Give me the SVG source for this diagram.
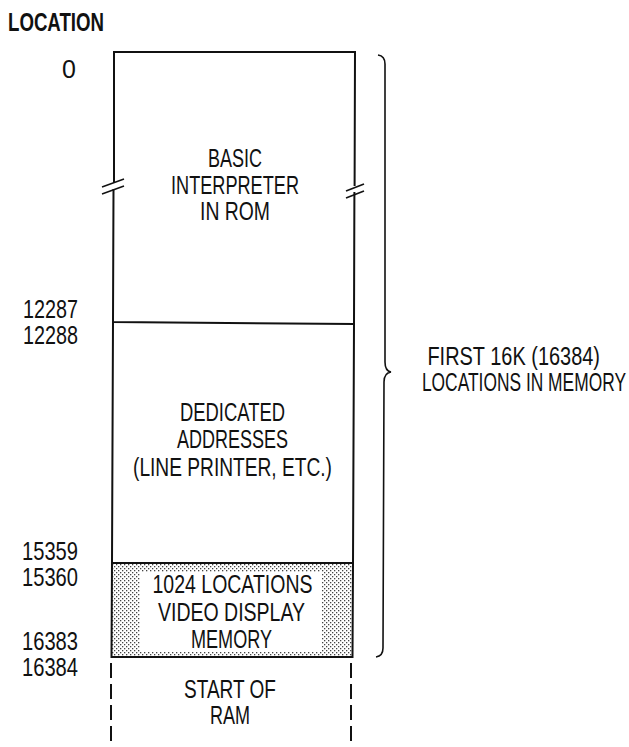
<svg xmlns="http://www.w3.org/2000/svg" width="629" height="747" viewBox="0 0 629 747">
<defs>
<pattern id="stipple" width="4" height="4" patternUnits="userSpaceOnUse">
<rect width="4" height="4" fill="#ffffff"/>
<rect x="0" y="0" width="1.3" height="1.3" fill="#444"/>
<rect x="2" y="2" width="1.3" height="1.3" fill="#444"/>
</pattern>
<style>
text{font-family:"Liberation Sans",Arial,sans-serif;font-size:25px;fill:#111}
.c{text-anchor:middle}
.r{text-anchor:end}
.b{font-weight:bold}
.ln{stroke:#111;stroke-width:2;fill:none;stroke-linecap:square}
.thin{stroke:#111;stroke-width:1.6;fill:none}
.dash{stroke:#111;stroke-width:2;fill:none;stroke-dasharray:15 6}
</style>
</defs>
<rect width="629" height="747" fill="#ffffff"/>

<g id="title">
<text class="b" x="8" y="31" textLength="96" lengthAdjust="spacingAndGlyphs">LOCATION</text>
</g>

<g id="addresses">
<text class="r" x="76" y="78">0</text>
<text class="r" x="78" y="318" textLength="55" lengthAdjust="spacingAndGlyphs">12287</text>
<text class="r" x="78" y="344" textLength="55" lengthAdjust="spacingAndGlyphs">12288</text>
<text class="r" x="78" y="560" textLength="56" lengthAdjust="spacingAndGlyphs">15359</text>
<text class="r" x="78" y="586" textLength="56" lengthAdjust="spacingAndGlyphs">15360</text>
<text class="r" x="78" y="650" textLength="56" lengthAdjust="spacingAndGlyphs">16383</text>
<text class="r" x="78" y="676" textLength="56" lengthAdjust="spacingAndGlyphs">16384</text>
</g>

<g id="rom">
<path class="ln" d="M114,182 L114,52 L355,52 L354.6,185"/>
<path class="ln" d="M113.5,190 L113,322 L354,324 L354.4,193"/>
<line class="thin" x1="102" y1="187" x2="124" y2="179"/>
<line class="thin" x1="102" y1="194" x2="124" y2="186"/>
<line class="thin" x1="346" y1="191" x2="364" y2="184"/>
<line class="thin" x1="346" y1="198" x2="364" y2="191"/>
<text class="c" x="235" y="167" textLength="54" lengthAdjust="spacingAndGlyphs">BASIC</text>
<text class="c" x="235" y="194" textLength="128" lengthAdjust="spacingAndGlyphs">INTERPRETER</text>
<text class="c" x="235" y="220" textLength="70" lengthAdjust="spacingAndGlyphs">IN ROM</text>
</g>

<g id="dedicated">
<path class="ln" d="M113,322 L112,563 M354,324 L353,563"/>
<text class="c" x="232.5" y="421" textLength="105" lengthAdjust="spacingAndGlyphs">DEDICATED</text>
<text class="c" x="232.5" y="448" textLength="111" lengthAdjust="spacingAndGlyphs">ADDRESSES</text>
<text class="c" x="232.5" y="476" textLength="199" lengthAdjust="spacingAndGlyphs">(LINE PRINTER, ETC.)</text>
</g>

<g id="video">
<rect x="112" y="563" width="240.5" height="94" fill="url(#stipple)"/>
<rect x="140" y="572" width="182" height="80" fill="#ffffff"/>
<path class="ln" d="M112,563 L353,563 L352.5,657 L111.5,657 Z"/>
<text class="c" x="232.5" y="593" textLength="160" lengthAdjust="spacingAndGlyphs">1024 LOCATIONS</text>
<text class="c" x="231.5" y="621" textLength="147" lengthAdjust="spacingAndGlyphs">VIDEO DISPLAY</text>
<text class="c" x="231.5" y="648" textLength="81" lengthAdjust="spacingAndGlyphs">MEMORY</text>
</g>

<g id="ram">
<line class="dash" x1="111" y1="663" x2="111" y2="747"/>
<line class="dash" x1="351" y1="663" x2="351" y2="747"/>
<text class="c" x="230" y="698" textLength="92" lengthAdjust="spacingAndGlyphs">START OF</text>
<text class="c" x="230" y="724" textLength="40" lengthAdjust="spacingAndGlyphs">RAM</text>
</g>

<g id="connectors">
<path class="thin" stroke-width="2" d="M378,55 Q385,56 385,64 L385,362 Q385,371 391,372 Q384,373 384,382 L383,648 Q383,656 376,657"/>
</g>

<g id="first16k">
<text class="r" transform="translate(600,365) scale(0.798,1)">FIRST 16K (16384)</text>
<text class="r" transform="translate(626,391) scale(0.696,1)">LOCATIONS IN MEMORY</text>
</g>
</svg>
